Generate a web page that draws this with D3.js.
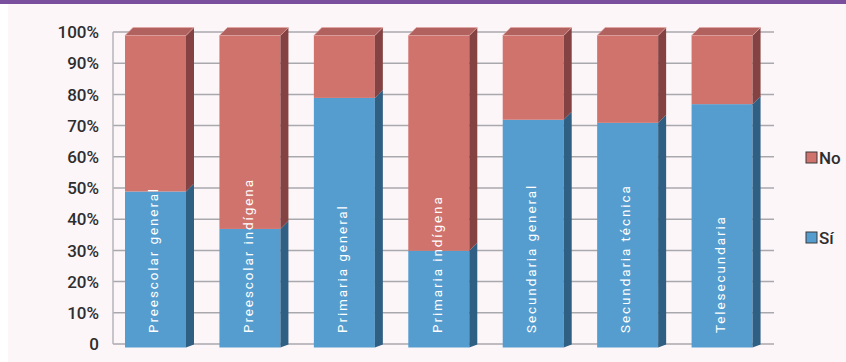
<!DOCTYPE html>
<html>
<head>
<meta charset="utf-8">
<script src="https://cdn.jsdelivr.net/npm/d3@7"></script>
<style>
	body { margin: 0; background: #ffffff; }
	svg { display: block; }
</style>
</head>
<body>
<svg id="chart" width="846" height="362"></svg>
<script>
// data (percent)
const categories = ["Preescolar general", "Preescolar indígena", "Primaria general", "Primaria indígena",
	"Secundaria general", "Secundaria técnica", "Telesecundaria"];
const si = [50, 38, 80, 31, 73, 72, 78];
const no = si.map(function (v) { return 100 - v; });
const yTicks = [0, 10, 20, 30, 40, 50, 60, 70, 80, 90, 100];
const seriesNames = ["No", "Sí"];

let svg = d3.select("#chart");

// background panel + purple band
svg.append("rect").attr("x", 8).attr("y", 0).attr("width", 838).attr("height", 362).attr("fill", "#fdf6f9");
svg.append("rect").attr("x", 0).attr("y", 0).attr("width", 846).attr("height", 4).attr("fill", "#7a4f9e");

let x = d3.scaleBand().domain(categories).range([113, 774]);
let y = d3.scaleLinear().domain([0, 100]).range([344, 32]);

let depth = 8, shift = 3.5;
let barW = x.bandwidth() * 0.646, barOff = 12;

// gridlines
svg.append("g")
	.selectAll("line")
	.data(yTicks)
	.enter().append("line")
	.attr("x1", 113).attr("x2", 774)
	.attr("y1", function (d) { return y(d); })
	.attr("y2", function (d) { return y(d); })
	.attr("stroke", "#a9a9ad").attr("stroke-width", 1.5);

svg.append("line")
	.attr("x1", 113).attr("x2", 113).attr("y1", y(100)).attr("y2", y(0))
	.attr("stroke", "#b5b5b8").attr("stroke-width", 1.5);

// tick labels
svg.append("g")
	.selectAll("text")
	.data(yTicks)
	.enter().append("text")
	.attr("x", 99)
	.attr("y", function (d) { return y(d); })
	.attr("dy", "0.36em")
	.attr("text-anchor", "end")
	.attr("font-family", "Roboto, sans-serif")
	.attr("font-size", 17)
	.attr("font-weight", 500)
	.attr("fill", "#2e2e2e")
	.text(function (d) { return d === 0 ? "0" : d + "%"; });

let data = categories.map(function (c, i) { return { cat: c, si: si[i], no: no[i] }; });

let bars = svg.append("g")
	.selectAll(".bar")
	.data(data)
	.enter().append("g")
	.attr("class", "bar");

function fy(v) { return y(v) + shift; }

// front faces
bars.append("rect")
	.attr("x", function (d) { return x(d.cat) + barOff; })
	.attr("width", barW)
	.attr("y", function (d) { return fy(d.si); })
	.attr("height", function (d) { return fy(0) - fy(d.si); })
	.attr("fill", "#559dcf");

bars.append("rect")
	.attr("x", function (d) { return x(d.cat) + barOff; })
	.attr("width", barW)
	.attr("y", function (d) { return fy(d.si + d.no); })
	.attr("height", function (d) { return fy(d.si) - fy(d.si + d.no); })
	.attr("fill", "#d0736d");

// side faces
bars.append("path")
	.attr("d", function (d) {
		let x0 = x(d.cat) + barOff + barW;
		return "M" + x0 + "," + fy(d.si) + "L" + (x0 + depth) + "," + (fy(d.si) - depth) +
			"L" + (x0 + depth) + "," + (y(0) + 0.5) + "L" + x0 + "," + fy(0) + "Z";
	})
	.attr("fill", "#2f5f82");

bars.append("path")
	.attr("d", function (d) {
		let x0 = x(d.cat) + barOff + barW;
		let t = fy(d.si + d.no);
		return "M" + x0 + "," + t + "L" + (x0 + depth) + "," + (t - depth) +
			"L" + (x0 + depth) + "," + (fy(d.si) - depth) + "L" + x0 + "," + fy(d.si) + "Z";
	})
	.attr("fill", "#844342");

// top faces
bars.append("path")
	.attr("d", function (d) {
		let x0 = x(d.cat) + barOff;
		let t = fy(d.si + d.no);
		return "M" + x0 + "," + t + "L" + (x0 + barW) + "," + t + "L" + (x0 + barW + depth) + "," + (t - depth) +
			"L" + (x0 + depth) + "," + (t - depth) + "Z";
	})
	.attr("fill", "#b1625e")
	.attr("stroke", "#e6a8a5")
	.attr("stroke-width", 0.6);

// category labels inside bars
bars.append("text")
	.attr("transform", function (d) {
		return "translate(" + (x(d.cat) + barOff + barW / 2 - 2) + "," + 333 + ") rotate(-90)";
	})
	.attr("dy", "0.35em")
	.attr("font-family", "Roboto, sans-serif")
	.attr("font-size", 13.5)
	.attr("letter-spacing", 1.9)
	.attr("fill", "#ffffff")
	.text(function (d) { return d.cat; });

// legend
let legend = svg.append("g")
	.selectAll("g")
	.data(seriesNames)
	.enter().append("g")
	.attr("transform", function (d, i) { return "translate(806," + (152 + i * 80) + ")"; });

legend.append("rect")
	.attr("width", 11).attr("height", 11)
	.attr("fill", function (d) { return d === "No" ? "#d0736d" : "#559dcf"; })
	.attr("stroke", "#3a3a3a").attr("stroke-width", 1);

legend.append("text")
	.attr("x", 13).attr("y", 6)
	.attr("dy", "0.36em")
	.attr("font-family", "Roboto, sans-serif")
	.attr("font-size", 17)
	.attr("font-weight", 500)
	.attr("fill", "#2e2e2e")
	.text(function (d) { return d; });
</script>
</body>
</html>
